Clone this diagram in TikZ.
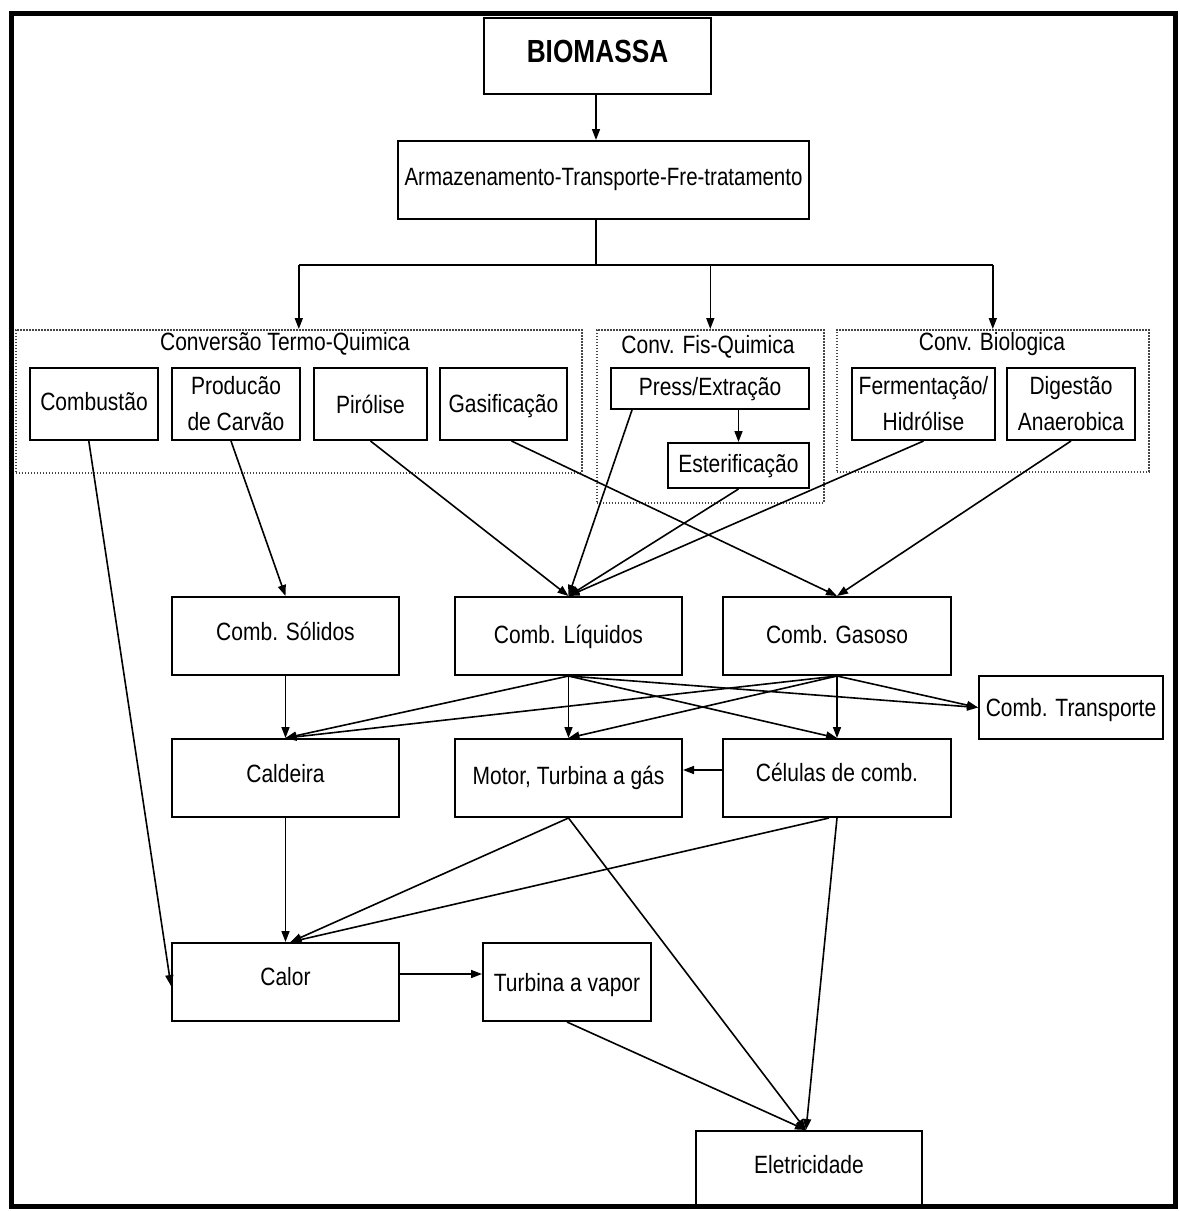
\documentclass[tikz,border=0pt]{standalone}
\usepackage{fontspec}
\setmainfont{Liberation Sans}
\newfontfamily\labelfont[FakeStretch=0.84]{Liberation Sans}
\newfontfamily\headfont[FakeStretch=0.82]{Liberation Sans}
\usetikzlibrary{arrows.meta,calc}

\begin{document}
\begin{tikzpicture}[x=1pt,y=-1pt,
  box/.style={draw=black, line width=2pt, fill=white, inner sep=0pt, align=center,
    font=\labelfont\fontsize{25}{36}\selectfont, anchor=north west},
  lift/.style={text height=18pt, text depth=#1},
  group/.style={draw=gray!55!black, line width=1.6pt, dash pattern=on 1.6pt off 1.4pt,
    inner sep=0pt, anchor=north west},
  grouptitle/.style={font=\labelfont\fontsize{25}{30}\selectfont, inner sep=0pt},
  flow/.style={line width=1.6pt, -{Triangle[length=11pt,width=8pt]}},
  trunk/.style={line width=1.6pt},
]
% canvas
\fill[white] (0,0) rectangle (1180,1211);
\useasboundingbox (0,0) rectangle (1180,1211);

% top of the chain
\node[box, minimum width=227pt, minimum height=76pt, lift=6pt,
  font=\headfont\bfseries\fontsize{32}{36}\selectfont]
  (bio) at (483,17) {BIOMASSA};
\node[box, minimum width=411pt, minimum height=78pt, lift=8pt,
  font=\headfont\fontsize{25}{30}\selectfont]
  (arm) at (397,140) {Armazenamento-Transporte-Fre-tratamento};

% conversion groups
\node[group, minimum width=566pt, minimum height=143pt] (termo) at (15,329) {};
\node[group, minimum width=227pt, minimum height=173pt] (fis) at (596,329) {};
\node[group, minimum width=312pt, minimum height=142pt] (biog) at (836,329) {};
\node[grouptitle] (termot) at (285,344) {Conversão Termo-Quimica};
\node[grouptitle] (fist) at (708,347) {Conv. Fis-Quimica};
\node[grouptitle] (biogt) at (992,344) {Conv. Biologica};

% processes
\node[box, minimum width=128pt, minimum height=72pt, lift=6pt] (combu) at (29,367) {Combustão};
\node[box, minimum width=128pt, minimum height=72pt] (prod) at (171,367) {Producão\\de Carvão};
\node[box, minimum width=113pt, minimum height=72pt, lift=0pt] (piro) at (313,367) {Pirólise};
\node[box, minimum width=127pt, minimum height=72pt, lift=2pt] (gasif) at (439,367) {Gasificação};
\node[box, minimum width=198pt, minimum height=41pt, lift=4pt] (press) at (610,367) {Press/Extração};
\node[box, minimum width=141pt, minimum height=45pt, lift=4pt] (ester) at (667,442) {Esterificação};
\node[box, minimum width=143pt, minimum height=72pt] (ferm) at (851,367) {Fermentação/\\Hidrólise};
\node[box, minimum width=128pt, minimum height=72pt] (dig) at (1006,367) {Digestão\\Anaerobica};

% fuels
\node[box, minimum width=227pt, minimum height=78pt, lift=10pt] (solid) at (171,596) {Comb. Sólidos};
\node[box, minimum width=227pt, minimum height=78pt, lift=4pt] (liq) at (454,596) {Comb. Líquidos};
\node[box, minimum width=228pt, minimum height=78pt, lift=4pt] (gas) at (722,596) {Comb. Gasoso};
\node[box, minimum width=184pt, minimum height=63pt, lift=0pt] (transp) at (978,675) {Comb. Transporte};

% conversion equipment
\node[box, minimum width=227pt, minimum height=78pt, lift=10pt] (cald) at (171,738) {Caldeira};
\node[box, minimum width=227pt, minimum height=78pt, lift=6pt] (motor) at (454,738) {Motor, Turbina a gás};
\node[box, minimum width=228pt, minimum height=78pt, lift=12pt] (cel) at (722,738) {Células de comb.};
\node[box, minimum width=227pt, minimum height=78pt, lift=12pt] (calor) at (171,942) {Calor};
\node[box, minimum width=168pt, minimum height=78pt, lift=0pt] (turb) at (482,942) {Turbina a vapor};
\node[box, minimum width=226pt, minimum height=77pt, lift=10pt] (elec) at (695,1130) {Eletricidade};

% distribution from the top
\coordinate (split) at (596,265);
\draw[flow] (bio.south -| split) -- (arm.north -| split);
\draw[trunk] (arm.south -| split) -- (split);
\draw[trunk] (termo.north |- split) -- (biog.north |- split);
\draw[flow] (termo.north |- split) -- (termo.north);
\draw[flow] (fis.north |- split) -- (fis.north);
\draw[flow] (biog.north |- split) -- (biog.north);
\draw[flow] (ester.north |- press.south) -- (ester.north);

% processes to fuels
\draw[flow] ($(combu.south west)!0.46!(combu.south east)$) -- ($(calor.north west)!0.55!(calor.south west)$);
\draw[flow] ($(prod.south)+(-5,0)$) -- (solid.north);
\draw[flow] (piro.south) -- (liq.north);
\draw[flow] ($(gasif.south)+(8,0)$) -- (gas.north);
\draw[flow] ($(press.south west)!0.11!(press.south east)$) -- (liq.north);
\draw[flow] (ester.south) -- (liq.north);
\draw[flow] (ferm.south) -- (liq.north);
\draw[flow] (dig.south) -- (gas.north);

% fuels to equipment
\draw[flow] (solid.south) -- (cald.north);
\foreach \f in {liq,gas}{
  \draw[flow] (\f.south) -- (cald.north);
  \draw[flow] (\f.south) -- (motor.north);
  \draw[flow] (\f.south) -- (cel.north);
  \draw[flow] (\f.south) -- (transp.west);
}
\draw[flow] ($(cel.west)+(0,-8)$) -- ($(motor.east)+(0,-8)$);

% equipment to heat and electricity
\draw[flow] (cald.south) -- (calor.north);
\draw[flow] (motor.south) -- ($(calor.north)+(5,0)$);
\draw[flow] ($(cel.south)+(-8,0)$) -- ($(calor.north)+(5,0)$);
\draw[flow] (motor.south) -- ($(elec.north)+(-3,0)$);
\draw[flow] (cel.south) -- ($(elec.north)+(-3,0)$);
\draw[flow] ($(calor.east)+(0,-8)$) -- ($(turb.west)+(0,-8)$);
\draw[flow] (turb.south) -- ($(elec.north)+(-3,0)$);

% outer frame
\draw[line width=5pt] (11,13.5) rectangle (1175,1206);
\end{tikzpicture}
\end{document}
